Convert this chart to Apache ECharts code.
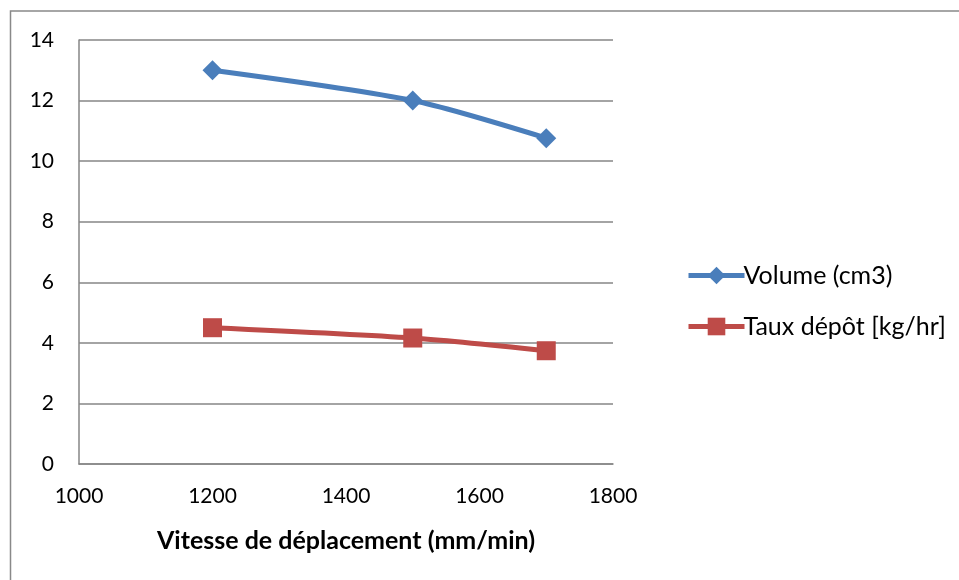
<!DOCTYPE html>
<html><head><meta charset="utf-8">
<script src="https://cdn.jsdelivr.net/npm/echarts@6/dist/echarts.min.js"></script>
<style>html,body{margin:0;padding:0;background:#fff}#c{width:959px;height:580px}</style>
</head><body><div id="c"></div>
<script>
const xValues = [1200, 1500, 1700];
const volume = [13.0, 12.0, 10.76];
const taux = [4.5, 4.16, 3.74];
const seriesNames = ['Volume (cm3)', 'Taux dépôt [kg/hr]'];
const xAxisTitle = 'Vitesse de déplacement (mm/min)';

const font = 'Lato, "Open Sans", sans-serif';
const chart = echarts.init(document.getElementById('c'));
chart.setOption({
  animation: false,
  textStyle: { fontFamily: font },
  graphic: [{ type: 'rect', shape: { x: 10.5, y: 11, width: 1000, height: 700 }, style: { fill: 'none', stroke: '#898989', lineWidth: 1.5 }, silent: true }],
  grid: { left: 79, right: 346, top: 40, bottom: 116 },
  xAxis: {
    type: 'value', min: 1000, max: 1800, interval: 200,
    name: xAxisTitle, nameLocation: 'middle', nameGap: 64,
    nameTextStyle: { fontFamily: font, fontSize: 25, fontWeight: 'bold', color: '#000' },
    axisLine: { show: true, lineStyle: { color: '#868686', width: 1.5 } },
    axisTick: { show: false },
    splitLine: { show: false },
    axisLabel: { fontSize: 21, color: '#000', margin: 22, fontFamily: font, formatter: v => String(v) }
  },
  yAxis: {
    type: 'value', min: 0, max: 14, interval: 2,
    axisLine: { show: true, lineStyle: { color: '#868686', width: 1.5 } },
    axisTick: { show: false },
    splitLine: { show: true, lineStyle: { color: '#868686', width: 1.5 } },
    axisLabel: { fontSize: 21, color: '#000', margin: 25, fontFamily: font }
  },
  legend: {
    orient: 'vertical', left: 681, top: 258, itemGap: 26, itemWidth: 56, itemHeight: 22,
    lineStyle: { width: 5 },
    textStyle: { fontSize: 25, color: '#000', fontFamily: font, padding: [0, 0, 0, -6] },
    data: seriesNames
  },
  series: [
    { name: seriesNames[0], type: 'line', smooth: 0.25, data: xValues.map((x, i) => [x, volume[i]]),
      symbol: 'diamond', symbolSize: 20, itemStyle: { color: '#4A7EBB' }, lineStyle: { width: 5, color: '#4A7EBB' } },
    { name: seriesNames[1], type: 'line', smooth: 0.25, data: xValues.map((x, i) => [x, taux[i]]),
      symbol: 'rect', symbolSize: 19, itemStyle: { color: '#BE4B48' }, lineStyle: { width: 5, color: '#BE4B48' } }
  ]
});
</script></body></html>
